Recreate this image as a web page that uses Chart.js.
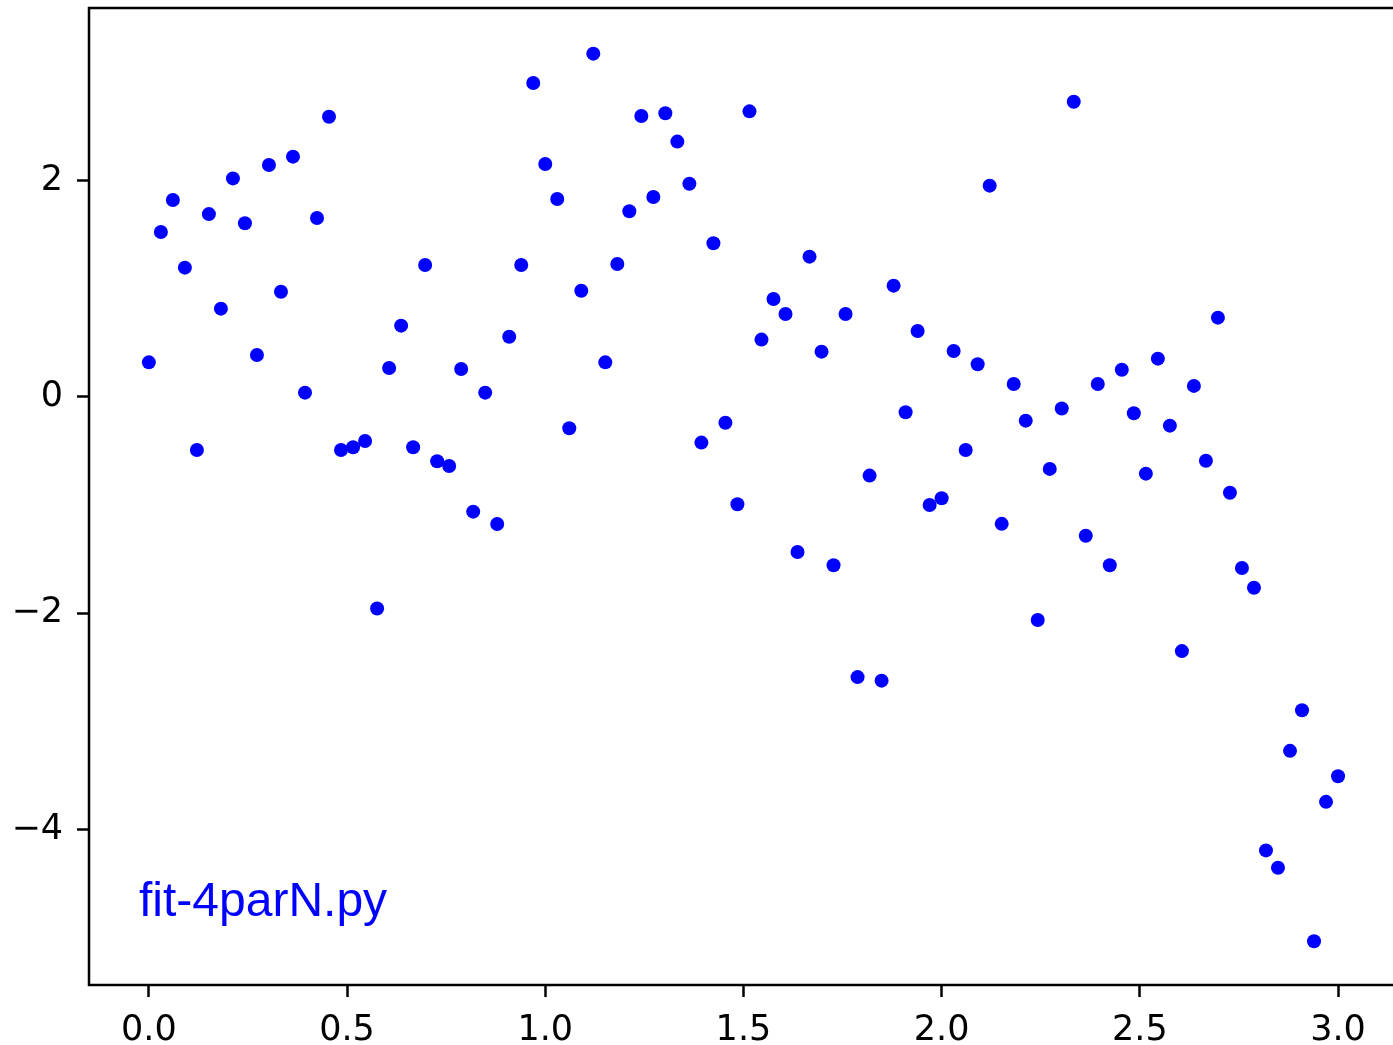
<!DOCTYPE html>
<html>
<head>
<meta charset="utf-8">
<title>fit-4parN</title>
<script src="https://cdn.jsdelivr.net/npm/chart.js@4.4.1/dist/chart.umd.min.js"></script>
<style>
  html, body { margin: 0; padding: 0; background: #fff; overflow: hidden; }
  #wrap { width: 1393px; height: 1045px; }
</style>
</head>
<body>
<div id="wrap"><canvas id="chart1" width="1393" height="1045"></canvas></div>
<script>
// data
var xValues = [
    0.0000, 0.0303, 0.0606, 0.0909, 0.1212, 0.1515, 0.1818, 0.2121, 0.2424, 0.2727,
    0.3030, 0.3333, 0.3636, 0.3939, 0.4242, 0.4545, 0.4848, 0.5152, 0.5455, 0.5758,
    0.6061, 0.6364, 0.6667, 0.6970, 0.7273, 0.7576, 0.7879, 0.8182, 0.8485, 0.8788,
    0.9091, 0.9394, 0.9697, 1.0000, 1.0303, 1.0606, 1.0909, 1.1212, 1.1515, 1.1818,
    1.2121, 1.2424, 1.2727, 1.3030, 1.3333, 1.3636, 1.3939, 1.4242, 1.4545, 1.4848,
    1.5152, 1.5455, 1.5758, 1.6061, 1.6364, 1.6667, 1.6970, 1.7273, 1.7576, 1.7879,
    1.8182, 1.8485, 1.8788, 1.9091, 1.9394, 1.9697, 2.0000, 2.0303, 2.0606, 2.0909,
    2.1212, 2.1515, 2.1818, 2.2121, 2.2424, 2.2727, 2.3030, 2.3333, 2.3636, 2.3939,
    2.4242, 2.4545, 2.4848, 2.5152, 2.5455, 2.5758, 2.6061, 2.6364, 2.6667, 2.6970,
    2.7273, 2.7576, 2.7879, 2.8182, 2.8485, 2.8788, 2.9091, 2.9394, 2.9697, 3.0000
];
var yValues = [
    0.32, 1.525, 1.82, 1.195, -0.49, 1.69, 0.816, 2.02, 1.605, 0.388,
    2.144, 0.973, 2.221, 0.04, 1.654, 2.59, -0.49, -0.465, -0.407, -1.955,
    0.268, 0.659, -0.465, 1.22, -0.594, -0.638, 0.259, -1.06, 0.04, -1.174,
    0.557, 1.22, 2.902, 2.153, 1.83, -0.289, 0.982, 3.173, 0.32, 1.229,
    1.716, 2.597, 1.848, 2.622, 2.36, 1.971, -0.422, 1.42, -0.238, -0.992,
    2.64, 0.53, 0.906, 0.767, -1.433, 1.297, 0.419, -1.555, 0.767, -2.589,
    -0.727, -2.622, 1.029, -0.141, 0.61, -0.998, -0.936, 0.425, -0.49, 0.302,
    1.953, -1.173, 0.12, -0.219, -2.061, -0.665, -0.106, 2.729, -1.283, 0.12,
    -1.555, 0.252, -0.151, -0.709, 0.354, -0.265, -2.349, 0.102, -0.589, 0.733,
    -0.885, -1.581, -1.764, -4.191, -4.351, -3.271, -2.895, -5.03, -3.742, -3.506
];
var xTicks = [0, 0.5, 1.0, 1.5, 2.0, 2.5, 3.0];
var yTicks = [-4, -2, 0, 2];
var label = 'fit-4parN.py';

var points = xValues.map(function(x, i) { return { x: x, y: yValues[i] }; });

// frame (left, top, bottom - right side is off the picture) + file name text
var framePlugin = {
    id: 'frame',
    afterDatasetsDraw: function(chart) {
        var c = chart.ctx, a = chart.chartArea;
        c.save();
        c.fillStyle = '#0000ff';
        c.font = '48px "Liberation Sans", Arial, sans-serif';
        c.textBaseline = 'alphabetic';
        c.textAlign = 'left';
        c.fillText(label, a.left + 50, 916);
        c.strokeStyle = '#000';
        c.lineWidth = 2.5;
        c.beginPath();
        c.moveTo(chart.width + 5, a.top);
        c.lineTo(a.left, a.top);
        c.lineTo(a.left, a.bottom);
        c.lineTo(chart.width + 5, a.bottom);
        c.stroke();
        c.restore();
    }
};

var tickFont = { family: '"DejaVu Sans", sans-serif', size: 35 };

var ctx = document.getElementById('chart1').getContext('2d');
var myChart = new Chart(ctx, {
    type: 'scatter',
    data: {
        datasets: [{
            data: points,
            backgroundColor: '#0000ff',
            borderWidth: 0,
            pointRadius: 7,
            pointHoverRadius: 7
        }]
    },
    options: {
        responsive: false,
        animation: false,
        layout: {
            padding: { top: 8, left: 0, right: 0, bottom: 0 }
        },
        plugins: {
            legend: { display: false },
            tooltip: { enabled: false }
        },
        scales: {
            x: {
                type: 'linear',
                min: -0.151,
                max: 3.121,
                afterBuildTicks: function(scale) {
                    scale.ticks = xTicks.map(function(v) { return { value: v }; });
                },
                afterFit: function(scale) {
                    scale.height = 60;
                    scale.paddingLeft = 0;
                    scale.paddingRight = 0;
                },
                border: { display: false },
                grid: {
                    drawOnChartArea: false,
                    drawTicks: true,
                    tickLength: 12,
                    tickWidth: 2.5,
                    tickColor: '#000'
                },
                ticks: {
                    color: '#000',
                    font: tickFont,
                    padding: 13,
                    maxRotation: 0,
                    callback: function(v) { return Number(v).toFixed(1); }
                }
            },
            y: {
                type: 'linear',
                min: -5.435,
                max: 3.595,
                afterBuildTicks: function(scale) {
                    scale.ticks = yTicks.map(function(v) { return { value: v }; });
                },
                afterFit: function(scale) {
                    scale.width = 89;
                    scale.paddingTop = 0;
                    scale.paddingBottom = 0;
                },
                border: { display: false },
                grid: {
                    drawOnChartArea: false,
                    drawTicks: true,
                    tickLength: 12,
                    tickWidth: 2.5,
                    tickColor: '#000'
                },
                ticks: {
                    color: '#000',
                    font: tickFont,
                    padding: 14,
                    callback: function(v) { return String(v).replace('-', '\u2212'); }
                }
            }
        }
    },
    plugins: [framePlugin]
});
</script>
</body>
</html>
